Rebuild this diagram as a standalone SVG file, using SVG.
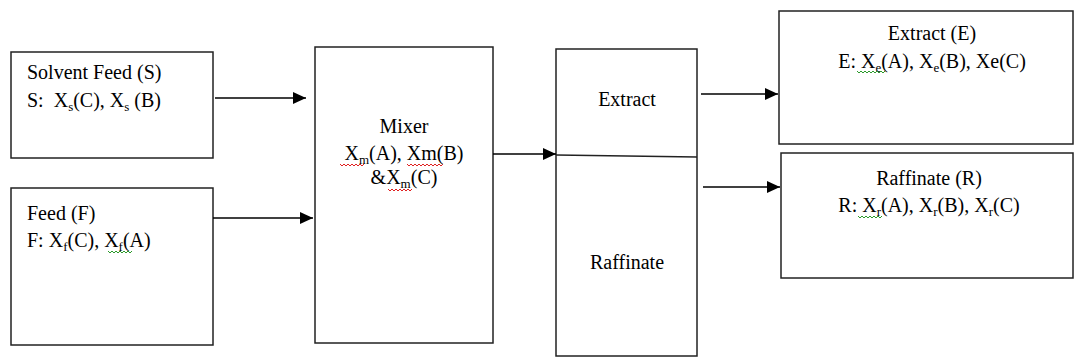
<svg xmlns="http://www.w3.org/2000/svg" width="1074" height="358" viewBox="0 0 1074 358">
<style>
.box{fill:#fff;stroke:#222;stroke-width:1.5}
.t{font-family:"Liberation Serif","Times New Roman",serif;font-size:20px;fill:#000;white-space:pre}
.c{text-anchor:middle}
.sub{font-size:13px}
.con{stroke:#000;stroke-width:1.5;fill:none}
.sqr{stroke:#e02020;stroke-width:1;fill:none}
.sqg{stroke:#2a9a2a;stroke-width:1;fill:none}
</style>
<defs>
<marker id="ah" markerWidth="13" markerHeight="12" refX="13" refY="6" orient="auto" markerUnits="userSpaceOnUse">
<path d="M0,0 L13,6 L0,12 Z" fill="#000"/>
</marker>
</defs>
<rect width="1074" height="358" fill="#fff"/>
<g id="solvent-feed">
<rect class="box" x="11" y="52" width="202" height="106"/>
<text class="t" x="27" y="79">Solvent Feed (S)</text>
<text class="t" x="27" y="107">S:  X<tspan class="sub" dy="4">s</tspan><tspan dy="-4">(C), X</tspan><tspan class="sub" dy="4">s</tspan><tspan dy="-4"> (B)</tspan></text>
</g>
<g id="feed">
<rect class="box" x="11" y="188" width="202" height="157"/>
<text class="t" x="27" y="220">Feed (F)</text>
<text class="t" x="27" y="247">F: X<tspan class="sub" dy="4">f</tspan><tspan dy="-4">(C), X</tspan><tspan class="sub" dy="4">f</tspan><tspan dy="-4">(A)</tspan></text>
<path class="sqg" d="M108,251 l2,2 l2,-2 l2,2 l2,-2 l2,2 l2,-2 l2,2 l2,-2 l2,2 l2,-2 l2,2 l2,-2"/>
</g>
<g id="mixer">
<rect class="box" x="315" y="47" width="178" height="296"/>
<text class="t c" x="404" y="133">Mixer</text>
<text class="t c" x="404" y="160">X<tspan class="sub" dy="4">m</tspan><tspan dy="-4">(A), Xm(B)</tspan></text>
<text class="t c" x="404" y="184">&amp;X<tspan class="sub" dy="4">m</tspan><tspan dy="-4">(C)</tspan></text>
<path class="sqr" d="M340,164 l2,2 l2,-2 l2,2 l2,-2 l2,2 l2,-2 l2,2 l2,-2 l2,2 l2,-2 l2,2 l2,-2"/>
<path class="sqr" d="M407,164 l2,2 l2,-2 l2,2 l2,-2 l2,2 l2,-2 l2,2 l2,-2 l2,2 l2,-2 l2,2 l2,-2 l2,2 l2,-2 l2,2 l2,-2 l2,2 l2,-2"/>
<path class="sqr" d="M388,189 l2,2 l2,-2 l2,2 l2,-2 l2,2 l2,-2 l2,2 l2,-2 l2,2 l2,-2 l2,2 l2,-2"/>
</g>
<g id="separator">
<rect class="box" x="556" y="49" width="141" height="307"/>
<line x1="556" y1="155" x2="697" y2="157" stroke="#222" stroke-width="1.5"/>
<text class="t c" x="627" y="106">Extract</text>
<text class="t c" x="627" y="269">Raffinate</text>
</g>
<g id="extract">
<rect class="box" x="779" y="11" width="294" height="133"/>
<text class="t c" x="932" y="40">Extract (E)</text>
<text class="t c" x="932" y="68">E: X<tspan class="sub" dy="4">e</tspan><tspan dy="-4">(A), X</tspan><tspan class="sub" dy="4">e</tspan><tspan dy="-4">(B), Xe(C)</tspan></text>
<path class="sqg" d="M857,71 l2,2 l2,-2 l2,2 l2,-2 l2,2 l2,-2 l2,2 l2,-2 l2,2 l2,-2 l2,2 l2,-2 l2,2 l2,-2"/>
</g>
<g id="raffinate">
<rect class="box" x="781" y="153" width="292" height="125"/>
<text class="t c" x="929" y="185">Raffinate (R)</text>
<text class="t c" x="929" y="212">R: X<tspan class="sub" dy="4">r</tspan><tspan dy="-4">(A), X</tspan><tspan class="sub" dy="4">r</tspan><tspan dy="-4">(B), X</tspan><tspan class="sub" dy="4">r</tspan><tspan dy="-4">(C)</tspan></text>
<path class="sqg" d="M858,216 l2,2 l2,-2 l2,2 l2,-2 l2,2 l2,-2 l2,2 l2,-2 l2,2 l2,-2 l2,2 l2,-2"/>
</g>
<g id="connectors">
<line class="con" x1="215" y1="98" x2="306" y2="98" marker-end="url(#ah)"/>
<line class="con" x1="213" y1="218" x2="313" y2="218" marker-end="url(#ah)"/>
<line class="con" x1="493" y1="154" x2="556" y2="154" marker-end="url(#ah)"/>
<line class="con" x1="701" y1="94" x2="778" y2="94" marker-end="url(#ah)"/>
<line class="con" x1="703" y1="187" x2="780" y2="187" marker-end="url(#ah)"/>
</g>
</svg>
